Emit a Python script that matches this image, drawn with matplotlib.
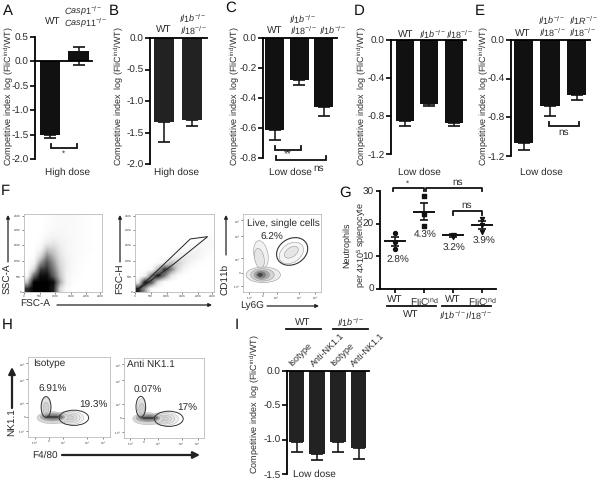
import matplotlib
matplotlib.use("Agg")
import matplotlib.pyplot as plt
from matplotlib.patches import Ellipse, Polygon
import numpy as np

plt.rcParams['font.family'] = ['Liberation Sans', 'DejaVu Sans']
plt.rcParams['mathtext.fontset'] = 'custom'
plt.rcParams['mathtext.rm'] = 'Liberation Sans'
plt.rcParams['mathtext.it'] = 'Liberation Sans:italic'
plt.rcParams['mathtext.bf'] = 'Liberation Sans:bold'
plt.rcParams['text.hinting'] = 'no_hinting'
plt.rcParams['text.hinting_factor'] = 1

YLAB = r"Competitive index  log (FliC$^{\mathrm{ind}}$/WT)"

# bar panels: means and lower error ends
a_vals = [-1.50, 0.22]
a_err_low = [0.06, 0.29]
a_err_up = [0, 0.08]
b_vals = [-1.33, -1.30]
b_err = [0.32, 0.10]
c_vals = [-0.61, -0.28, -0.46]
c_err = [0.07, 0.03, 0.06]
d_vals = [-0.85, -0.67, -0.87]
d_err = [0.06, 0.03, 0.04]
e_vals = [-1.07, -0.68, -0.57]
e_err = [0.07, 0.11, 0.05]
i_vals = [-1.04, -1.21, -1.03, -1.125]
i_err = [0.14, 0.09, 0.15, 0.16]

# panel G
g_pts = [[17.1, 14.2, 12.3], [28.4, 23.0, 19.3], [16.6, 16.3, 15.9], [21.5, 19.5, 17.5]]
g_mean = [14.5, 23.6, 16.4, 19.5]
g_sem = [1.4, 2.6, 0.4, 1.3]
g_markers = ['o', 's', 'v', 'v']
g_labels = ['WT', r'FliC$^{\mathrm{ind}}$', 'WT', r'FliC$^{\mathrm{ind}}$']

ssc_density = [
    [0, 0, 0, .02, .03, .05, .05, .05, .03, .02, .01, 0],
    [0, 0, 0, .02, .04, .05, .05, .04, .03, .02, .01, 0],
    [0, 0, 0, .03, .05, .06, .05, .04, .03, .02, .01, 0],
    [0, 0, .01, .06, .10, .08, .06, .05, .03, .02, .01, 0],
    [0, 0, .03, .15, .18, .12, .07, .05, .03, .02, .01, 0],
    [0, 0, .10, .35, .30, .16, .08, .05, .03, .02, .01, 0],
    [0, .02, .25, .55, .40, .20, .10, .05, .03, .01, 0, 0],
    [0, .08, .50, .75, .50, .25, .12, .05, .02, .01, 0, 0],
    [0, .25, .80, .85, .60, .30, .12, .04, .02, 0, 0, 0],
    [.05, .65, .95, .95, .70, .35, .10, .03, .01, 0, 0, 0],
    [.35, 1, 1, 1, .95, .45, .10, .02, 0, 0, 0, 0],
    [.85, 1, 1, 1, .90, .25, .04, 0, 0, 0, 0, 0],
]
fsc_density = [
    [0, 0, 0, 0, 0, 0, 0, 0, 0, 0, 0, 0],
    [0, 0, 0, 0, 0, 0, 0, 0, 0, 0, 0, 0],
    [0, 0, 0, 0, 0, 0, 0, 0, 0, 0, 0, 0],
    [0, 0, 0, 0, 0, 0, 0, 0, 0, 0, .03, .04],
    [0, 0, 0, 0, 0, 0, 0, 0, .02, .05, .07, .05],
    [0, 0, 0, 0, 0, 0, .02, .05, .08, .10, .06, .03],
    [0, 0, 0, 0, 0, .03, .10, .15, .15, .10, .04, .01],
    [0, 0, 0, .02, .15, .35, .30, .18, .08, .03, .01, 0],
    [0, 0, .03, .40, .85, .60, .25, .08, .02, 0, 0, 0],
    [0, .10, .60, .95, .60, .20, .05, 0, 0, 0, 0, 0],
    [.15, .95, .75, .20, .03, 0, 0, 0, 0, 0, 0, 0],
    [.90, .50, .05, 0, 0, 0, 0, 0, 0, 0, 0, 0],
]

fig = plt.figure(figsize=(6, 4.8), dpi=100)
over = fig.add_axes([0, 0, 1, 1], zorder=10)
over.set_xlim(0, 600)
over.set_ylim(480, 0)
over.axis('off')


def T(x, y, s, size=7.2, **kw):
    kw.setdefault('ha', 'center')
    kw.setdefault('va', 'center')
    kw.setdefault('color', '#2a2a2a')
    over.text(x, y, s, fontsize=size, **kw)


def bracket(x0, x1, y, drop=4, lw=1.3):
    over.plot([x0, x0, x1, x1], [y - drop, y, y, y - drop], color='#111111', lw=lw, solid_joinstyle='miter')


def bar_panel(xaxis, xend, ytop, ybot, ylim, ticks, first, step, vals, err, width, err_up=None, color='#111111'):
    ax = fig.add_axes([xaxis / 600, 1 - ybot / 480, (xend - xaxis) / 600, (ybot - ytop) / 480])
    xs = np.arange(len(vals))
    ax.set_xlim((xaxis - first) / step, (xend - first) / step)
    ax.set_ylim(*ylim)
    up = err_up if err_up is not None else [0] * len(vals)
    ax.errorbar(xs, vals, yerr=[err, up], fmt='none', ecolor='#111111', elinewidth=1.1,
                capsize=4, capthick=1.2, zorder=1)
    ax.bar(xs, vals, width=width / step, color=color, zorder=2)
    for s in ['top', 'right']:
        ax.spines[s].set_visible(False)
    ax.spines['bottom'].set_position(('data', 0))
    ax.spines['bottom'].set_zorder(3)
    ax.spines['left'].set_linewidth(1.3)
    ax.spines['bottom'].set_linewidth(1.3)
    ax.set_xticks([])
    ax.set_yticks(ticks)
    ax.set_yticklabels(['%.1f' % t for t in ticks])
    ax.tick_params(axis='y', length=3.5, width=1.2, pad=1, labelsize=7.2, labelcolor='#2a2a2a')
    ax.patch.set_alpha(0)
    return ax


# top row
bar_panel(35, 92, 37, 159, (-2.0, 0.5), [0.5, 0, -0.5, -1.0, -1.5, -2.0], 50, 28.5, a_vals, a_err_low, 20.5, a_err_up)
bar_panel(150, 207, 38, 164, (-2.0, 0), [0, -0.5, -1.0, -1.5, -2.0], 164, 28, b_vals, b_err, 20, color='#222222')
bar_panel(263, 337, 38, 158, (-0.8, 0), [0, -0.2, -0.4, -0.6, -0.8], 274.5, 24.5, c_vals, c_err, 19)
bar_panel(391, 466, 40, 154, (-1.2, 0), [0, -0.4, -0.8, -1.2], 405, 24.5, d_vals, d_err, 18)
bar_panel(511, 590, 40, 156, (-1.2, 0), [0, -0.4, -0.8, -1.2], 523.5, 26.5, e_vals, e_err, 19.5)
bar_panel(287, 369, 371, 474, (-1.5, 0), [0, -0.5, -1.0, -1.5], 296.5, 20.7, i_vals, i_err, 15.5, color='#222222')

for x, y, s in [(8, 96, YLAB), (118, 96, YLAB), (234, 96, YLAB), (361, 96, YLAB), (483, 96, YLAB), (254, 404, YLAB)]:
    T(x, y, s, size=6.6, rotation=90)

for x, y, s in [(8, 11, 'A'), (114, 11, 'B'), (231, 8, 'C'), (359, 11, 'D'), (480, 11, 'E'),
                (5, 191, 'F'), (345, 193, 'G'), (7, 325, 'H'), (237, 325, 'I')]:
    T(x, y, s, size=10.5, color='#111111')

T(68, 172, 'High dose')
T(177, 172, 'High dose')
T(290, 172, 'Low dose')
T(419, 172, 'Low dose')
T(541, 172, 'Low dose')

T(53, 21, 'WT')
T(83, 11, r"$\mathit{Casp1}^{-/-}$", size=6.8)
T(86, 23, r"$\mathit{Casp11}^{-/-}$", size=6.8)
T(164, 29, 'WT')
T(193, 18, r"$\mathit{Il1b}^{-/-}$", size=6.8)
T(193, 30, r"$\mathit{Il18}^{-/-}$", size=6.8)
T(275, 30, 'WT')
T(303, 19, r"$\mathit{Il1b}^{-/-}$", size=6.8)
T(303, 30, r"$\mathit{Il18}^{-/-}$", size=6.8)
T(333, 30, r"$\mathit{Il1b}^{-/-}$", size=6.8)
T(406, 34, 'WT')
T(433, 34, r"$\mathit{Il1b}^{-/-}$", size=6.8)
T(459, 34, r"$\mathit{Il18}^{-/-}$", size=6.8)
T(523, 33, 'WT')
T(552, 20, r"$\mathit{Il1b}^{-/-}$", size=6.8)
T(552, 32, r"$\mathit{Il18}^{-/-}$", size=6.8)
T(583, 20, r"$\mathit{Il1R}^{-/-}$", size=6.8)
T(582, 32, r"$\mathit{Il18}^{-/-}$", size=6.8)

# significance brackets
bracket(51, 77, 148)
T(63, 154, '*', size=6)
bracket(275, 301, 150)
bracket(276, 326, 160)
T(288, 155, '**', size=7)
T(319, 168, 'ns')
bracket(549, 579, 126)
T(564, 132, 'ns')

# panel G
axg = fig.add_axes([380 / 600, 1 - 288.7 / 480, 116 / 600, 97.7 / 480])
axg.set_ylim(0, 30)
axg.set_xlim(-0.52, 3.48)
for i in range(4):
    axg.scatter([i] * len(g_pts[i]), g_pts[i], marker=g_markers[i], s=8, color='#111111', zorder=3, clip_on=False)
    axg.errorbar([i], [g_mean[i]], yerr=[g_sem[i]], fmt='none', ecolor='#111111', elinewidth=1.1,
                 capsize=3, capthick=1.2, zorder=3)
    axg.plot([i - 0.34, i + 0.34], [g_mean[i]] * 2, color='#111111', lw=1.4, zorder=3)
axg.set_xticks(range(4))
axg.set_xticklabels(g_labels)
axg.set_yticks([0, 10, 20, 30])
axg.tick_params(length=3, width=1.2, pad=1.5, labelsize=7.2, labelcolor='#2a2a2a')
for s in ['top', 'right']:
    axg.spines[s].set_visible(False)
for s in ['left', 'bottom']:
    axg.spines[s].set_linewidth(1.3)
axg.patch.set_alpha(0)

T(347, 245, 'Neutrophils', size=6.3, rotation=90)
T(361, 245, r'per 4x10$^{5}$ splenocyte', size=6.3, rotation=90)
T(398, 260, '2.8%')
T(425, 235, '4.3%')
T(454, 248, '3.2%')
T(484, 241, '3.9%')
over.plot([393, 393, 424, 424], [191, 188, 188, 191], color='#111111', lw=1.3)
over.plot([426, 426, 482, 482], [191, 188, 188, 191], color='#111111', lw=1.3)
T(407, 184, '*', size=6)
T(458, 182, 'ns')
over.plot([453, 453, 482, 482], [215, 211, 211, 215], color='#111111', lw=1.3)
T(467, 205, 'ns')
over.plot([387, 436], [306, 306], color='#111111', lw=1.3)
over.plot([442, 491], [306, 306], color='#111111', lw=1.3)
T(411, 314, 'WT')
T(466, 315, r"$\mathit{Il1b}^{-/-}\mathit{Il18}^{-/-}$", size=6.8)


def flow_axes(x0, x1, y0, y1, xt, yt, xl, yl):
    ax = fig.add_axes([x0 / 600, 1 - y1 / 480, (x1 - x0) / 600, (y1 - y0) / 480])
    ax.set_xlim(0, 100)
    ax.set_ylim(0, 100)
    ax.set_xticks(xt)
    ax.set_xticklabels(xl)
    ax.set_yticks(yt)
    ax.set_yticklabels(yl)
    ax.tick_params(length=1.5, width=0.5, pad=0.5, labelsize=2.5, color='#555555', labelcolor='#444444')
    for s in ax.spines.values():
        s.set_linewidth(0.6)
        s.set_color('#bbbbbb')
    return ax


k_ticks = [0, 20, 40, 60, 80, 98]
k_labs = ['0', '50K', '100K', '150K', '200K', '250K']
log_ticks = [8, 25, 43, 72, 92]
log_labs = ['-10$^{3}$', '0', '10$^{3}$', '10$^{4}$', '10$^{5}$']

# F scatter panels
ax1 = flow_axes(24, 102, 214, 292, k_ticks, k_ticks, k_labs, k_labs)
ax1.imshow(np.array(ssc_density), cmap='Greys', vmin=0, vmax=1, extent=(0, 100, 0, 100),
           aspect='auto', interpolation='bilinear')
ax2 = flow_axes(135, 214, 214, 292, k_ticks, k_ticks, k_labs, k_labs)
ax2.imshow(np.array(fsc_density), cmap='Greys', vmin=0, vmax=1, extent=(0, 100, 0, 100),
           aspect='auto', interpolation='bilinear')
ax2.add_patch(Polygon([[1, 1], [70, 68], [92, 71], [48, 35]], closed=True, fill=False, ec='#222222', lw=0.7))

# nested contour rings, outer first: centre x, centre y, width, height, angle, shade
ax3 = flow_axes(243, 321, 214, 292, log_ticks, log_ticks, log_labs, log_labs)
rings3 = [
    (23, 48, 18, 36, 10, '#f2f2f2'), (21, 43, 12, 26, 10, '#e6e6e6'),
    (62, 50, 34, 24, 35, '#f4f4f4'), (62, 51, 20, 12, 35, '#e6e6e6'),
    (26, 22, 44, 20, 0, '#ececec'), (25, 22, 30, 16, 0, '#d4d4d4'), (24, 22, 20, 12, 0, '#aaaaaa'),
    (23, 22, 13, 9, 0, '#777777'), (22, 22, 8, 6, 0, '#444444'),
]
for cx, cy, w, h, ang, shade in rings3:
    ax3.add_patch(Ellipse((cx, cy), w, h, angle=ang, fc=shade, ec='#999999', lw=0.4))
ax3.add_patch(Ellipse((63, 52), 42, 33, angle=30, fill=False, ec='#333333', lw=0.8))
T(283, 223, 'Live, single cells', size=7)
T(272, 237, '6.2%')

T(8, 279, 'SSC-A', rotation=90)
T(120, 279, 'FSC-H', rotation=90)
T(225, 279, 'CD11b', rotation=90)
T(35, 304, 'FSC-A')
T(252, 306, 'Ly6G')


def arrow(x0, y0, x1, y1, lw=0.9, head=5):
    over.annotate('', xy=(x1, y1), xytext=(x0, y0),
                  arrowprops=dict(arrowstyle='-|>', lw=lw, color='#222222', mutation_scale=head, shrinkA=0, shrinkB=0))


arrow(8, 262, 8, 215)
arrow(120, 262, 120, 215)
arrow(226, 255, 226, 215)
arrow(57, 305, 212, 305)
arrow(267, 306, 319, 306)

# H contour panels
rings_h = [
    (22, 37, 11, 24, 0, '#e4e4e4'), (22, 36, 7, 15, 0, '#cfcfcf'),
    (51, 24, 34, 17, 0, '#efefef'), (51, 24, 25, 13, 0, '#e6e6e6'), (51, 24, 17, 9, 0, '#dcdcdc'),
    (51, 24, 9, 5, 0, '#d2d2d2'),
    (30, 24, 38, 15, 0, '#d8d8d8'), (30, 25, 30, 10, 0, '#a8a8a8'), (31, 25, 24, 7, 0, '#707070'),
    (30, 25, 18, 4, 0, '#444444'),
]
h_pos = [(28, 110, 357, 437), (124, 204, 358, 438)]
h_gate_x = [22, 21]
h_gate_y = [37.5, 39]
for (x0, x1, y0, y1), gx, gy in zip(h_pos, h_gate_x, h_gate_y):
    ax = flow_axes(x0, x1, y0, y1, log_ticks, log_ticks, log_labs, log_labs)
    for cx, cy, w, h, ang, shade in rings_h:
        ax.add_patch(Ellipse((cx, cy), w, h, angle=ang, fc=shade, ec='#aaaaaa', lw=0.3))
    ax.add_patch(Ellipse((gx, gy), 12, 26, fill=False, ec='#333333', lw=0.7))
    ax.add_patch(Ellipse((56, 24), 36, 19, fill=False, ec='#333333', lw=0.7))

T(33, 363, 'Isotype', ha='left')
T(127, 364, 'Anti NK1.1', ha='left')
T(53, 389, '6.91%')
T(93, 405, '19.3%')
T(148, 390, '0.07%')
T(187, 408, '17%')
T(12, 422, 'NK1.1', rotation=90)
T(45, 455, 'F4/80')
arrow(12, 408, 12, 367, lw=1.6, head=10)
arrow(62, 455, 200, 455, lw=1.6, head=10)

# I labels
for x, s in [(293, 'Isotype'), (315, 'Anti-NK1.1'), (335, 'Isotype'), (355, 'Anti-NK1.1')]:
    T(x, 368, s, rotation=45, ha='left', va='bottom', size=6.8, rotation_mode='anchor')
over.plot([286, 321], [329, 329], color='#111111', lw=1.3)
over.plot([333, 368], [329, 329], color='#111111', lw=1.3)
T(303, 322, 'WT')
T(351, 322, r"$\mathit{Il1b}^{-/-}$", size=6.8)
T(314, 474, 'Low dose')

fig.savefig('out.png', dpi=100)
